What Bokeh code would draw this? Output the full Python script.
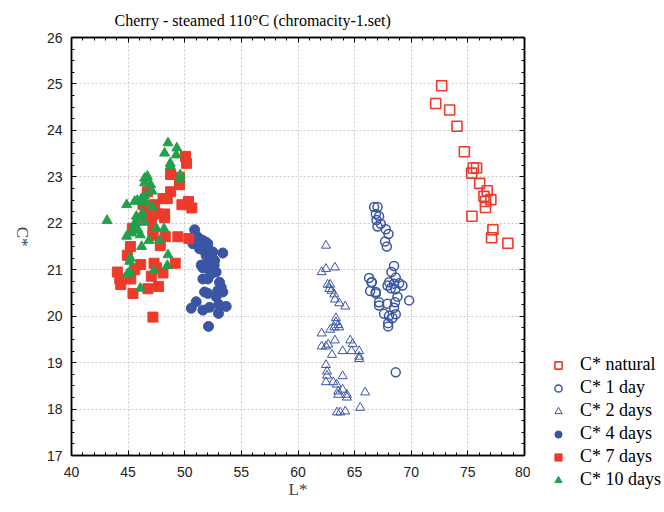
from bokeh.plotting import figure
from bokeh.models import (Range1d, SingleIntervalTicker, LinearAxis, Grid,
                          Legend, LegendItem, CustomJSTickFormatter)
from bokeh.layouts import row
from bokeh.embed import file_html
from bokeh.resources import INLINE
import math

# ---------------- data ----------------
natural_L = [72.69, 72.16, 73.39, 74.04, 74.69, 75.48, 75.77, 75.33, 76.04, 76.71,
             76.42, 77.03, 76.56, 76.56, 75.36, 77.21, 77.09, 78.53]
natural_C = [24.96, 24.58, 24.44, 24.09, 23.54, 23.19, 23.19, 23.08, 22.86, 22.70,
             22.58, 22.51, 22.47, 22.34, 22.15, 21.86, 21.69, 21.57]

day1_L = [66.72, 67.02, 66.87, 67.16, 66.93, 67.02, 67.31, 67.75, 67.99, 67.69,
          67.84, 68.48, 68.25, 68.63, 68.04, 67.90, 68.48, 68.93, 69.22, 68.20,
          68.60, 66.52, 66.87, 68.78, 69.81, 68.57, 67.16, 67.16, 67.90, 68.48,
          67.60, 68.04, 68.63, 68.34, 67.96, 67.96, 68.63, 66.28, 66.49, 66.37,
          66.87]
day1_C = [22.35, 22.35, 22.20, 22.15, 22.07, 21.93, 21.99, 21.87, 21.77, 21.61,
          21.50, 21.08, 20.95, 20.83, 20.73, 20.66, 20.70, 20.71, 20.66, 20.60,
          20.58, 20.73, 20.52, 20.42, 20.34, 20.30, 20.30, 20.23, 20.27, 20.18,
          20.05, 20.01, 20.04, 19.96, 19.85, 19.78, 18.79, 20.82, 20.73, 20.54,
          20.49]

day2_L = [62.47, 62.47, 62.09, 63.26, 62.61, 62.84, 62.76, 62.96, 63.20, 63.26,
          63.64, 64.17, 63.35, 63.35, 63.55, 63.20, 63.64, 62.84, 62.09, 63.26,
          64.61, 64.82, 62.09, 62.47, 62.67, 63.00, 63.94, 64.73, 65.40, 65.40,
          65.40, 62.47, 62.56, 62.56, 62.47, 63.11, 63.41, 63.94, 63.55, 63.55,
          63.94, 64.32, 64.32, 65.93, 63.44, 63.73, 64.17, 65.49]
day2_C = [21.52, 21.02, 20.95, 21.05, 20.68, 20.68, 20.59, 20.55, 20.47, 20.36,
          20.28, 20.21, 19.96, 19.87, 19.81, 19.76, 19.76, 19.71, 19.63, 19.48,
          19.48, 19.40, 19.35, 19.35, 19.39, 19.17, 19.25, 19.25, 19.25, 19.13,
          19.08, 18.95, 18.81, 18.72, 18.58, 18.58, 18.53, 18.71, 18.38, 18.31,
          18.42, 18.31, 18.25, 18.36, 17.93, 17.93, 17.95, 18.03]

day4_L = [50.87, 51.16, 50.72, 51.60, 51.89, 52.04, 51.31, 51.60, 52.19, 52.48,
          53.36, 51.89, 52.33, 52.19, 52.63, 51.60, 52.04, 52.48, 52.77, 52.33,
          51.60, 52.04, 53.07, 53.22, 52.92, 53.36, 52.77, 51.75, 52.04, 51.01,
          50.57, 51.60, 52.19, 53.00, 53.66, 52.98, 52.10, 51.45, 52.60]
day4_C = [21.86, 21.70, 21.56, 21.63, 21.59, 21.56, 21.45, 21.43, 21.42, 21.38,
          21.36, 21.30, 21.27, 21.16, 21.20, 21.04, 21.02, 20.98, 20.95, 20.91,
          20.80, 20.80, 20.73, 20.62, 20.55, 20.52, 20.42, 20.52, 20.49, 20.31,
          20.17, 20.13, 20.19, 20.25, 20.21, 20.06, 19.78, 21.10, 21.10]

day7_L = [50.07, 50.16, 48.75, 49.54, 49.54, 46.70, 48.75, 48.08, 48.46, 49.75,
          50.33, 50.63, 46.31, 47.34, 46.70, 47.64, 48.22, 48.22, 46.46, 47.05,
          45.37, 47.19, 47.19, 48.28, 49.39, 50.36, 47.84, 45.20, 44.93, 46.11,
          47.29, 47.49, 48.08, 49.16, 45.58, 45.23, 44.05, 44.26, 44.35, 47.05,
          45.43, 46.75, 47.69, 47.19]
day7_C = [23.44, 23.29, 23.05, 22.99, 22.83, 22.68, 22.68, 22.53, 22.53, 22.40,
          22.47, 22.33, 22.40, 22.40, 22.25, 22.20, 22.20, 22.12, 22.12, 22.08,
          21.89, 21.86, 21.74, 21.71, 21.71, 21.67, 21.52, 21.50, 21.31, 21.11,
          21.14, 21.04, 20.93, 21.14, 21.00, 20.80, 20.95, 20.80, 20.68, 20.86,
          20.49, 20.59, 20.64, 19.98]

day10_L = [48.52, 49.30, 48.22, 49.25, 48.72, 48.72, 49.60, 49.60, 46.70, 46.46,
           46.46, 46.99, 47.11, 46.46, 46.17, 44.87, 45.58, 45.81, 46.26, 46.61,
           47.14, 46.26, 45.73, 46.08, 45.64, 43.14, 46.46, 45.52, 47.49, 48.17,
           45.87, 45.29, 44.87, 46.08, 46.84, 47.78, 46.19, 48.52, 45.20, 45.14,
           48.46, 47.28, 44.93, 45.14, 46.08]
day10_C = [23.73, 23.62, 23.51, 23.47, 23.29, 23.23, 23.04, 22.95, 23.01, 22.97,
           22.87, 22.83, 22.69, 22.59, 22.53, 22.40, 22.47, 22.49, 22.47, 22.44,
           22.35, 22.22, 22.15, 22.10, 22.02, 22.06, 22.02, 21.95, 21.89, 21.88,
           21.86, 21.79, 21.72, 21.75, 21.63, 21.63, 21.50, 21.32, 21.25, 21.18,
           21.09, 20.98, 20.91, 20.95, 20.60]

series_labels = ["C* natural", "C* 1 day", "C* 2 days", "C* 4 days", "C* 7 days", "C* 10 days"]
title_text = "Cherry - steamed 110°C (chromacity-1.set)"
x_label = "L*"
y_label = "C*"

# ---------------- styles ----------------
RED = "#ee3a2a"
BLUE = "#3a55a4"
GREEN = "#22a04b"
styles = [
    dict(marker="square", size=10, fill_color=None, line_color=RED, line_width=1.6),
    dict(marker="circle", size=9, fill_color=None, line_color=BLUE, line_width=1.5),
    dict(marker="triangle", size=9, fill_color=None, line_color=BLUE, line_width=1),
    dict(marker="circle", size=10, fill_color=BLUE, line_color=BLUE, line_width=1),
    dict(marker="square", size=10, fill_color=RED, line_color=RED, line_width=1),
    dict(marker="triangle", size=10, fill_color=GREEN, line_color=GREEN, line_width=1),
]
series = [(natural_L, natural_C), (day1_L, day1_C), (day2_L, day2_C),
          (day4_L, day4_C), (day7_L, day7_C), (day10_L, day10_C)]

# ---------------- main figure ----------------
p = figure(width=530, height=512, output_backend="svg", toolbar_location=None,
           x_range=Range1d(40, 80), y_range=Range1d(17, 26),
           min_border_left=70, min_border_right=6, min_border_top=37,
           min_border_bottom=57, x_axis_type=None, y_axis_type=None,
           title=title_text)
p.frame_align = False
p.background_fill_color = "white"
p.border_fill_color = "white"
p.outline_line_color = "black"
p.outline_line_width = 1.5

p.title.text_font = "Liberation Serif"
p.title.text_font_size = "16px"
p.title.text_font_style = "normal"
p.title.text_color = "black"
p.title.align = "left"
p.title.offset = 43
p.title.standoff = 18

blank = CustomJSTickFormatter(code="return ''")

def make_axis(interval, minor, show_labels):
    ax = LinearAxis(ticker=SingleIntervalTicker(interval=interval, num_minor_ticks=minor))
    ax.axis_line_color = "black"
    ax.axis_line_width = 1.5
    ax.major_tick_in = 5
    ax.major_tick_out = 0
    ax.minor_tick_in = 3
    ax.minor_tick_out = 0
    ax.major_tick_line_color = "black"
    ax.minor_tick_line_color = "black"
    ax.major_label_text_font = "Liberation Sans"
    ax.major_label_text_color = "#222222"
    if show_labels:
        ax.major_label_text_font_size = "14px"
    else:
        ax.formatter = blank
        ax.major_label_text_font_size = "1px"
        ax.major_label_standoff = 0
    return ax

xb = make_axis(5, 5, True)
xb.major_label_standoff = 11
xb.axis_label = x_label
xb.axis_label_text_font = "Liberation Serif"
xb.axis_label_text_font_size = "17px"
xb.axis_label_text_font_style = "normal"
xb.axis_label_standoff = 0
xt = make_axis(5, 5, False)
yl = make_axis(1, 4, True)
yl.major_label_standoff = 9
yl.axis_label = y_label
yl.axis_label_text_font = "Liberation Serif"
yl.axis_label_text_font_size = "17px"
yl.axis_label_text_font_style = "normal"
yl.axis_label_standoff = 21
yl.axis_label_orientation = -math.pi / 2
yr = make_axis(1, 4, False)
p.add_layout(xb, "below")
p.add_layout(xt, "above")
p.add_layout(yl, "left")
p.add_layout(yr, "right")

gx = Grid(dimension=0, ticker=xb.ticker, grid_line_color="#c8c8c8", grid_line_dash="2 2", grid_line_width=1)
gy = Grid(dimension=1, ticker=yl.ticker, grid_line_color="#c8c8c8", grid_line_dash="2 2", grid_line_width=1)
p.add_layout(gx)
p.add_layout(gy)

for (xs, ys), st in zip(series, styles):
    p.scatter(xs, ys, **st)

# ---------------- legend panel (second figure, same marker styles) ----------------
lf = figure(width=134, height=512, output_backend="svg", toolbar_location=None,
            x_range=Range1d(0, 1), y_range=Range1d(0, 1),
            min_border=0, x_axis_type=None, y_axis_type=None)
lf.frame_align = False
lf.outline_line_color = None
lf.background_fill_color = "white"
lf.border_fill_color = "white"
lf.xgrid.visible = False
lf.ygrid.visible = False
# one key point per series, kept outside the visible range so only the legend shows it
legend_renderers = [lf.scatter(x=[-5.0], y=[-5.0], **st) for st in styles]
legend = Legend(items=[LegendItem(label=l, renderers=[r]) for l, r in zip(series_labels, legend_renderers)],
                location=(19, 22), padding=0, margin=0, spacing=2,
                glyph_width=18, glyph_height=20, label_height=20, label_standoff=13,
                label_text_font="Liberation Serif", label_text_font_size="18px",
                label_text_color="black", border_line_color=None,
                background_fill_alpha=0)
lf.add_layout(legend, "center")

layout = row(p, lf, spacing=0)
open("out.html", "w").write(file_html(layout, INLINE))
